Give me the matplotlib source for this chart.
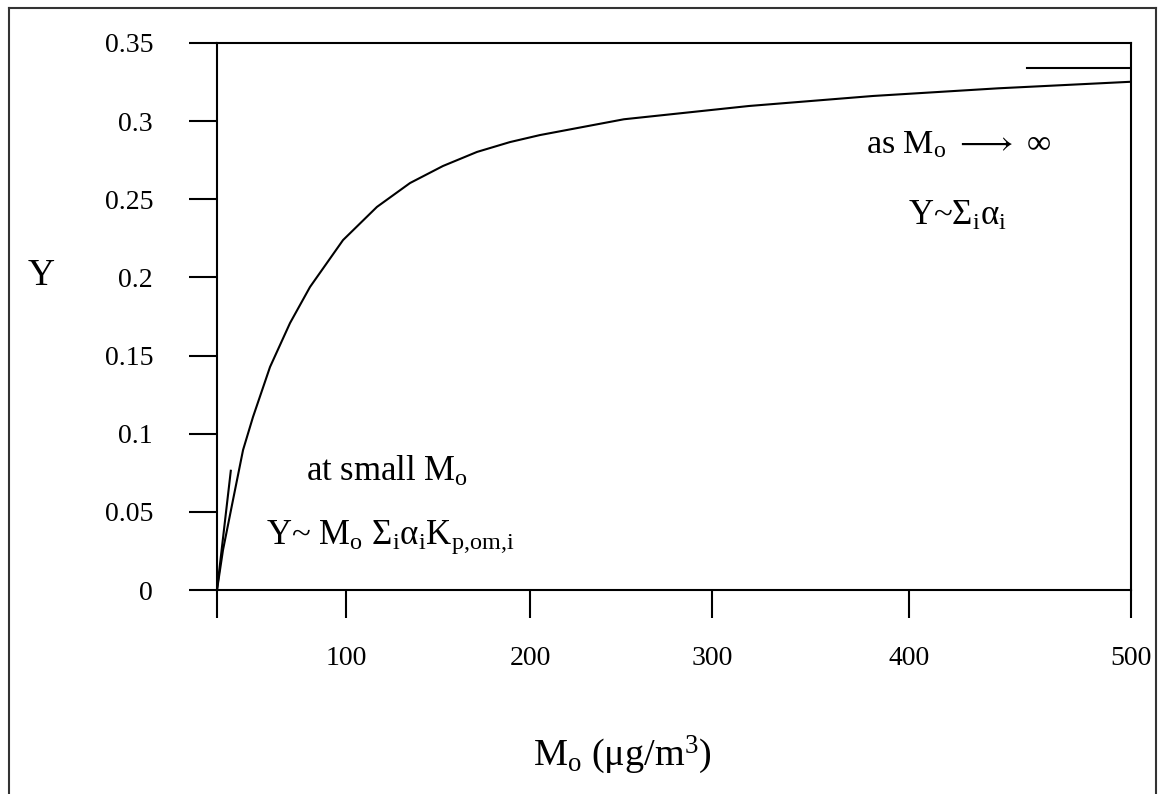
import numpy as np
import matplotlib
matplotlib.use("Agg")
import matplotlib.pyplot as plt
from matplotlib.lines import Line2D

plt.rcParams['font.family'] = ['Liberation Serif', 'DejaVu Serif']
plt.rcParams['mathtext.fontset'] = 'custom'
plt.rcParams['mathtext.rm'] = 'Liberation Serif'
plt.rcParams['mathtext.it'] = 'Liberation Serif:italic'
plt.rcParams['mathtext.bf'] = 'Liberation Serif:bold'

# ---- data ----
mo_curve = [0, 4.65, 12.4, 20.2, 27.9, 41.1, 56.6, 72.1, 97.7, 116.8, 134.8,
            152.7, 171.2, 189.1, 205.5, 251.6, 318.8, 381.7, 440.1, 500]
y_curve = [0, 0.0256, 0.0576, 0.0896, 0.1107, 0.1427, 0.1708, 0.1939, 0.2239,
           0.2451, 0.2604, 0.2713, 0.2803, 0.2866, 0.2911, 0.3012, 0.3097,
           0.3161, 0.3210, 0.3252]

mo_tangent = [0, 10.7]
y_tangent = [0, 0.0763]

mo_asymptote = [453, 500]
y_asymptote = [0.334, 0.334]

x_ticks = [0, 100, 200, 300, 400, 500]
x_ticklabels = ['', '100', '200', '300', '400', '500']
y_ticks = [0, 0.05, 0.1, 0.15, 0.2, 0.25, 0.3, 0.35]
y_ticklabels = ['0', '0.05', '0.1', '0.15', '0.2', '0.25', '0.3', '0.35']

# axis drawn with uneven tick spacing in the original
x_axis_pos = [0, 129, 313, 495, 692, 914]

W, H = 1164, 794
fig = plt.figure(figsize=(W / 100, H / 100), dpi=100)
fig.patch.set_facecolor('white')

L, R, T, B = 217, 1131, 43, 590
ax = fig.add_axes([L / W, 1 - B / H, (R - L) / W, (B - T) / H])


def fwd(x):
    return np.interp(x, x_ticks, x_axis_pos)


def inv(p):
    return np.interp(p, x_axis_pos, x_ticks)


ax.set_xscale('function', functions=(fwd, inv))
ax.set_xlim(0, 500)
ax.set_ylim(0, 0.35)

ax.plot(mo_curve, y_curve, color='black', lw=1.5, solid_joinstyle='round')
ax.plot(mo_tangent, y_tangent, color='black', lw=1.5)
ax.plot(mo_asymptote, y_asymptote, color='black', lw=1.5)

ax.set_xticks(x_ticks)
ax.set_xticklabels(x_ticklabels)
ax.set_yticks(y_ticks)
ax.set_yticklabels(y_ticklabels)
ax.xaxis.set_minor_locator(matplotlib.ticker.NullLocator())

for s in ax.spines.values():
    s.set_linewidth(1.5)
ax.tick_params(axis='both', direction='out', length=20, width=1.5,
               labelsize=20, colors='black')
ax.tick_params(axis='x', pad=20)
ax.tick_params(axis='y', pad=26)

# texts
fs = 25
def ftxt(x, y, s, size=fs, ha='center'):
    fig.text(x / W, 1 - y / H, s, fontsize=size, ha=ha, va='baseline')

ftxt(959, 153, r'as M$_\mathrm{o}$ $\longrightarrow$ ∞', size=24.5)
ftxt(957, 225, r'Y~Σ$_\mathrm{i}$α$_\mathrm{i}$')
ftxt(387, 481, r'at small M$_\mathrm{o}$')
ftxt(390, 544, r'Y~ M$_\mathrm{o}$ Σ$_\mathrm{i}$α$_\mathrm{i}$K$_\mathrm{p{,}om{,}i}$')
ftxt(622, 765, r'M$_\mathrm{o}$ (μg/m$^\mathrm{3}$)', size=27.5)
ftxt(41, 285, 'Y', size=27)

# outer frame
kw = dict(color='#333333', lw=1.5, transform=fig.transFigure)
fig.add_artist(Line2D([9 / W, 9 / W], [0, 1 - 8 / H], **kw))
fig.add_artist(Line2D([9 / W, 1156 / W], [1 - 8 / H, 1 - 8 / H], **kw))
fig.add_artist(Line2D([1156 / W, 1156 / W], [0, 1 - 8 / H], **kw))

fig.savefig('out.png', dpi=100, facecolor='white')
